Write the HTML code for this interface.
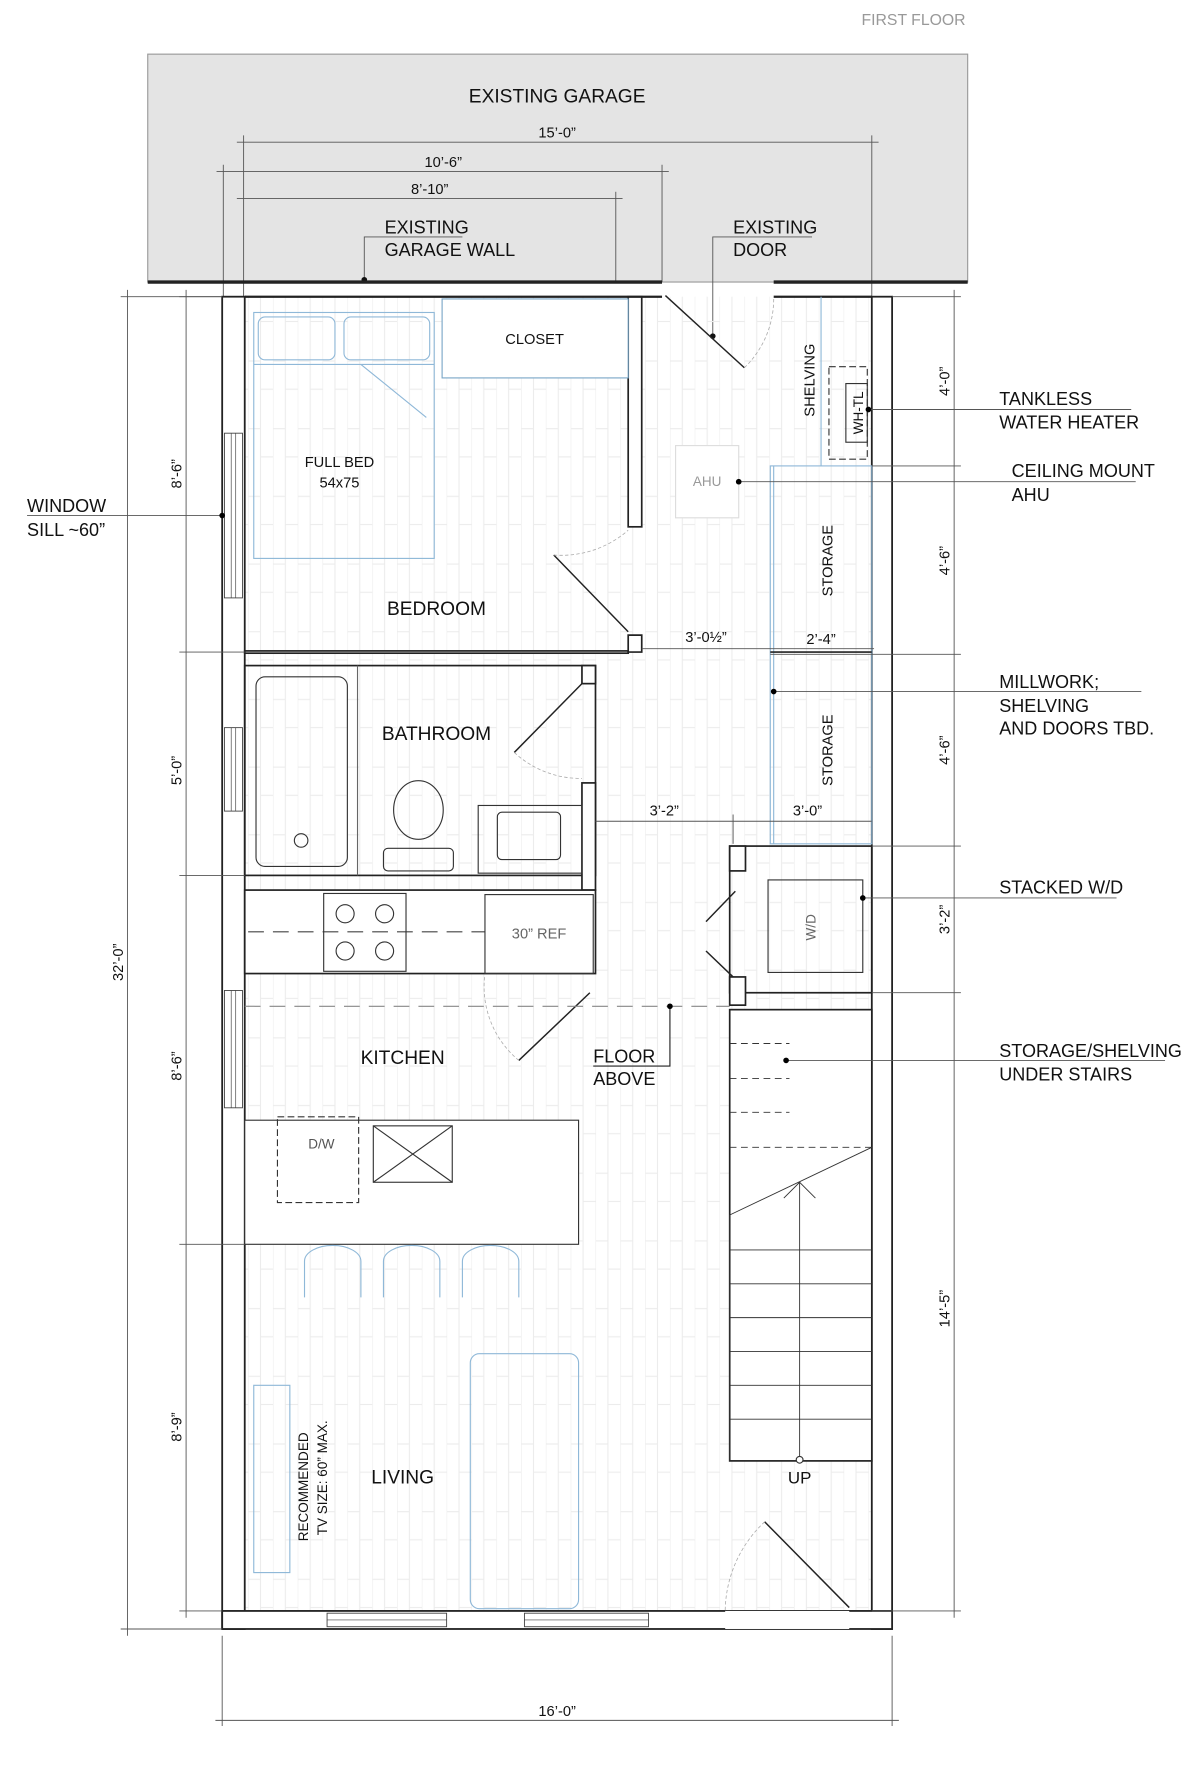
<!DOCTYPE html>
<html><head><meta charset="utf-8"><style>
html,body{margin:0;padding:0;background:#fff}
svg{display:block}
text{font-family:"Liberation Sans",sans-serif;fill:#111}
</style></head><body>
<svg width="1200" height="1770" viewBox="0 0 1064 1569" preserveAspectRatio="none" xmlns="http://www.w3.org/2000/svg">
<defs>
<pattern id="wood" width="22" height="60" patternUnits="userSpaceOnUse">
<line x1="0" y1="0" x2="0" y2="60" stroke="#ececec" stroke-width="1"/>
<line x1="11" y1="0" x2="11" y2="60" stroke="#ececec" stroke-width="1"/>
<line x1="0" y1="20" x2="11" y2="20" stroke="#ececec"/>
<line x1="11" y1="45" x2="22" y2="45" stroke="#ececec"/>
</pattern>
</defs>
<text x="810" y="22" font-size="14" fill="#999" style="fill:#999" text-anchor="middle">FIRST FLOOR</text>
<rect x="131" y="48" width="727" height="202" fill="#e4e4e4" stroke="#999"/>
<text x="494" y="91" font-size="17" text-anchor="middle">EXISTING GARAGE</text>
<g stroke="#555" stroke-width="0.8" fill="none">
<line x1="210" y1="126" x2="779" y2="126"/><line x1="216" y1="120" x2="216" y2="263"/><line x1="773" y1="120" x2="773" y2="263"/>
<line x1="192" y1="152" x2="593" y2="152"/><line x1="198" y1="146" x2="198" y2="263"/><line x1="587" y1="146" x2="587" y2="250"/>
<line x1="210" y1="176" x2="552" y2="176"/><line x1="546" y1="170" x2="546" y2="250"/>
<polyline points="323,248 323,210 410,210"/>
<polyline points="632,298 632,210 720,210"/>
</g>
<circle cx="323" cy="248" r="2.5" fill="#111"/><circle cx="632" cy="298" r="2.5" fill="#111"/>
<text x="494" y="122" font-size="13" text-anchor="middle">15’-0”</text>
<text x="393" y="148" font-size="13" text-anchor="middle">10’-6”</text>
<text x="381" y="172" font-size="13" text-anchor="middle">8’-10”</text>
<text x="341" y="207" font-size="16">EXISTING</text><text x="341" y="227" font-size="16">GARAGE WALL</text>
<text x="650" y="207" font-size="16">EXISTING</text><text x="650" y="227" font-size="16">DOOR</text>
<line x1="131" y1="250" x2="587" y2="250" stroke="#222" stroke-width="3"/>
<line x1="686" y1="250" x2="858" y2="250" stroke="#222" stroke-width="3"/>
<rect x="217" y="263" width="556" height="1165" fill="url(#wood)"/>
<g fill="none" stroke="#222" stroke-width="1.6">
<rect x="197" y="263" width="20" height="1181" fill="#fff"/>
<rect x="773" y="263" width="18" height="1181" fill="#fff"/>
<rect x="197" y="1428" width="594" height="16" fill="#fff"/>
</g>
<g fill="#fff" stroke="#444" stroke-width="0.8">
<rect x="199" y="384" width="16" height="146"/><rect x="199" y="645" width="16" height="74"/><rect x="199" y="878" width="16" height="104"/>
<rect x="290" y="1430" width="106" height="12"/><rect x="465" y="1430" width="110" height="12"/>
<rect x="643" y="1428" width="110" height="16" stroke="none"/>
</g>
<g stroke="#444" stroke-width="0.6"><line x1="205" y1="384" x2="205" y2="530"/><line x1="209" y1="384" x2="209" y2="530"/>
<line x1="205" y1="645" x2="205" y2="719"/><line x1="209" y1="645" x2="209" y2="719"/>
<line x1="205" y1="878" x2="205" y2="982"/><line x1="209" y1="878" x2="209" y2="982"/>
<line x1="290" y1="1436" x2="396" y2="1436"/><line x1="465" y1="1436" x2="575" y2="1436"/></g>
<g fill="#fff" stroke="#222" stroke-width="1.5">
<rect x="217" y="577" width="340" height="2"/>
<rect x="557" y="263" width="12" height="204"/>
<path d="M557 563 L569 563 L569 578 L557 578 Z"/>
<rect x="217" y="590" width="311" height="186" fill="none"/>
<rect x="516" y="590" width="12" height="16"/>
<rect x="516" y="694" width="12" height="95"/>
<rect x="217" y="789" width="311" height="74" fill="#fff"/>
<rect x="647" y="750" width="126" height="130" fill="none"/>
<rect x="647" y="750" width="14" height="22"/><rect x="647" y="866" width="14" height="25"/>
<rect x="647" y="895" width="126" height="400" fill="#fff"/>
</g>
<line x1="217" y1="263" x2="587" y2="263" stroke="#222" stroke-width="2"/>
<line x1="686" y1="263" x2="773" y2="263" stroke="#222" stroke-width="2"/>
<rect x="392" y="265" width="165" height="70" fill="#fff" stroke="#7aa7c7" stroke-width="1"/>
<text x="474" y="305" font-size="13" text-anchor="middle">CLOSET</text>
<g fill="none" stroke="#8fb8d8" stroke-width="1">
<rect x="225" y="277" width="160" height="218"/>
<rect x="229" y="281" width="68" height="38" rx="6"/><rect x="305" y="281" width="76" height="38" rx="6"/>
<path d="M225 323 L385 323 M320 323 L378 370"/>
</g>
<text x="301" y="414" font-size="13" text-anchor="middle">FULL BED</text>
<text x="301" y="432" font-size="13" text-anchor="middle">54x75</text>
<text x="387" y="545" font-size="17" text-anchor="middle">BEDROOM</text>
<g stroke="#222" stroke-width="1.3" fill="none">
<line x1="491" y1="492" x2="557" y2="560"/>
<line x1="456" y1="667" x2="516" y2="606"/>
<line x1="590" y1="262" x2="660" y2="326"/>
<line x1="626" y1="817" x2="652" y2="790"/>
<line x1="626" y1="843" x2="650" y2="866"/>
<line x1="460" y1="940" x2="523" y2="880"/>
<line x1="678" y1="1349" x2="753" y2="1425"/>
</g>
<g stroke="#aaa" stroke-width="0.7" fill="none" stroke-dasharray="3 2">
<path d="M491 492 A90 90 0 0 0 557 470"/><path d="M456 667 A86 86 0 0 0 516 690"/>
<path d="M660 326 A85 85 0 0 0 686 263"/><path d="M460 940 A85 85 0 0 1 430 863"/>
<path d="M678 1349 A110 110 0 0 0 643 1428"/>
</g>
<line x1="728" y1="263" x2="728" y2="413" stroke="#8fb8d8"/>
<text transform="translate(722,337) rotate(-90)" font-size="13" text-anchor="middle">SHELVING</text>
<rect x="735" y="325" width="34" height="82" fill="none" stroke="#333" stroke-dasharray="6 3"/>
<rect x="750" y="340" width="19" height="52" fill="none" stroke="#333"/>
<text transform="translate(765,366) rotate(-90)" font-size="12" text-anchor="middle">WH-TL</text>
<rect x="599" y="395" width="56" height="64" fill="#fff" stroke="#ddd"/>
<text x="627" y="431" font-size="12" fill="#999" style="fill:#999" text-anchor="middle">AHU</text>
<g fill="none" stroke="#8fb8d8"><rect x="683" y="413" width="90" height="335"/><line x1="686" y1="413" x2="686" y2="748"/></g>
<line x1="683" y1="578" x2="773" y2="578" stroke="#222" stroke-width="1.5"/>
<text transform="translate(738,497) rotate(-90)" font-size="13" text-anchor="middle">STORAGE</text>
<text transform="translate(738,665) rotate(-90)" font-size="13" text-anchor="middle">STORAGE</text>
<line x1="317" y1="590" x2="317" y2="776" stroke="#666"/>
<rect x="227" y="600" width="81" height="168" rx="8" fill="none" stroke="#333"/>
<circle cx="267" cy="745" r="6" fill="none" stroke="#333"/>
<text x="387" y="656" font-size="17" text-anchor="middle">BATHROOM</text>
<ellipse cx="371" cy="718" rx="22" ry="26" fill="none" stroke="#333"/>
<rect x="340" y="752" width="62" height="20" rx="4" fill="none" stroke="#333"/>
<rect x="424" y="714" width="92" height="60" fill="none" stroke="#333"/>
<rect x="441" y="720" width="56" height="42" rx="4" fill="none" stroke="#333"/>
<line x1="220" y1="826" x2="430" y2="826" stroke="#444" stroke-dasharray="14 8"/>
<rect x="287" y="792" width="73" height="69" fill="none" stroke="#333"/>
<g fill="none" stroke="#333"><circle cx="306" cy="810" r="8"/><circle cx="341" cy="810" r="8"/><circle cx="306" cy="843" r="8"/><circle cx="341" cy="843" r="8"/></g>
<rect x="430" y="793" width="96" height="70" fill="none" stroke="#333"/>
<text x="478" y="832" font-size="13" fill="#666" style="fill:#666" text-anchor="middle">30” REF</text>
<line x1="217" y1="892" x2="647" y2="892" stroke="#888" stroke-dasharray="14 8"/>
<text x="357" y="943" font-size="17" text-anchor="middle">KITCHEN</text>
<polyline points="526,945 594,945 594,892" fill="none" stroke="#222"/>
<circle cx="594" cy="892" r="2.5"/>
<text x="526" y="942" font-size="16">FLOOR</text><text x="526" y="962" font-size="16">ABOVE</text>
<rect x="217" y="993" width="296" height="110" fill="#fff" stroke="#333"/>
<rect x="246" y="990" width="72" height="76" fill="none" stroke="#333" stroke-dasharray="6 3"/>
<text x="285" y="1018" font-size="12" fill="#555" style="fill:#555" text-anchor="middle">D/W</text>
<rect x="331" y="998" width="70" height="50" fill="none" stroke="#333"/>
<path d="M331 998 L401 1048 M401 998 L331 1048" stroke="#333"/>
<g fill="none" stroke="#8fb8d8"><path d="M270 1150 L270 1118 A25 14 0 0 1 320 1118 L320 1150"/><path d="M340 1150 L340 1118 A25 14 0 0 1 390 1118 L390 1150"/><path d="M410 1150 L410 1118 A25 14 0 0 1 460 1118 L460 1150"/></g>
<rect x="417" y="1200" width="96" height="226" rx="8" fill="none" stroke="#8fb8d8"/>
<rect x="225" y="1228" width="32" height="166" fill="none" stroke="#8fb8d8"/>
<text x="357" y="1315" font-size="17" text-anchor="middle">LIVING</text>
<text transform="translate(273,1318) rotate(-90)" font-size="12" text-anchor="middle">RECOMMENDED</text>
<text transform="translate(290,1310) rotate(-90)" font-size="12" text-anchor="middle">TV SIZE: 60” MAX.</text>
<rect x="681" y="780" width="84" height="82" fill="none" stroke="#333"/>
<text transform="translate(723,822) rotate(-90)" font-size="12" fill="#666" style="fill:#666" text-anchor="middle">W/D</text>
<g stroke="#333" stroke-width="0.8" fill="none">
<line x1="647" y1="1017" x2="773" y2="1017" stroke-dasharray="6 4"/>
<line x1="647" y1="1077" x2="773" y2="1017"/>
<line x1="647" y1="1108" x2="773" y2="1108"/><line x1="647" y1="1138" x2="773" y2="1138"/><line x1="647" y1="1168" x2="773" y2="1168"/><line x1="647" y1="1198" x2="773" y2="1198"/><line x1="647" y1="1228" x2="773" y2="1228"/><line x1="647" y1="1258" x2="773" y2="1258"/><line x1="647" y1="1077" x2="647" y2="1295"/>
<line x1="709" y1="1048" x2="709" y2="1292"/><polyline points="695,1062 709,1048 723,1062"/>
<line x1="647" y1="925" x2="700" y2="925" stroke-dasharray="6 4"/><line x1="647" y1="956" x2="700" y2="956" stroke-dasharray="6 4"/><line x1="647" y1="986" x2="700" y2="986" stroke-dasharray="6 4"/>
</g>
<circle cx="709" cy="1294" r="3" fill="#fff" stroke="#333"/>
<text x="709" y="1315" font-size="15" text-anchor="middle">UP</text>
<g stroke="#555" stroke-width="0.8"><line x1="569" y1="575" x2="775" y2="575"/><line x1="528" y1="728" x2="773" y2="728"/><line x1="650" y1="722" x2="650" y2="748"/></g>
<text x="626" y="569" font-size="13" text-anchor="middle">3’-0½”</text>
<text x="728" y="571" font-size="13" text-anchor="middle">2’-4”</text>
<text x="589" y="723" font-size="13" text-anchor="middle">3’-2”</text>
<text x="716" y="723" font-size="13" text-anchor="middle">3’-0”</text>
<g stroke="#555" stroke-width="0.8">
<line x1="113" y1="257" x2="113" y2="1450"/><line x1="107" y1="263" x2="197" y2="263"/><line x1="107" y1="1444" x2="197" y2="1444"/>
<line x1="165" y1="257" x2="165" y2="1434"/>
<line x1="159" y1="263" x2="197" y2="263"/><line x1="159" y1="578" x2="217" y2="578"/><line x1="159" y1="776" x2="217" y2="776"/><line x1="159" y1="1103" x2="217" y2="1103"/><line x1="159" y1="1428" x2="197" y2="1428"/>
<line x1="197" y1="1450" x2="197" y2="1530"/><line x1="791" y1="1450" x2="791" y2="1530"/><line x1="191" y1="1525" x2="797" y2="1525"/>
<line x1="24" y1="457" x2="197" y2="457"/>
<line x1="791" y1="263" x2="852" y2="263"/><line x1="846" y1="257" x2="846" y2="1434"/>
<line x1="773" y1="413" x2="852" y2="413"/><line x1="683" y1="580" x2="852" y2="580"/><line x1="773" y1="750" x2="852" y2="750"/><line x1="773" y1="880" x2="852" y2="880"/><line x1="773" y1="1428" x2="852" y2="1428"/>
<line x1="770" y1="363" x2="1003" y2="363"/><line x1="655" y1="427" x2="1007" y2="427"/><line x1="686" y1="613" x2="1012" y2="613"/><line x1="765" y1="796" x2="990" y2="796"/><line x1="697" y1="940" x2="1033" y2="940"/>
</g>
<circle cx="197" cy="457" r="2.5"/><circle cx="770" cy="363" r="2.5"/><circle cx="655" cy="427" r="2.5"/><circle cx="686" cy="613" r="2.5"/><circle cx="765" cy="796" r="2.5"/><circle cx="697" cy="940" r="2.5"/>
<text transform="translate(109,853) rotate(-90)" font-size="13" text-anchor="middle">32’-0”</text>
<text transform="translate(161,420) rotate(-90)" font-size="13" text-anchor="middle">8’-6”</text>
<text transform="translate(161,683) rotate(-90)" font-size="13" text-anchor="middle">5’-0”</text>
<text transform="translate(161,945) rotate(-90)" font-size="13" text-anchor="middle">8’-6”</text>
<text transform="translate(161,1265) rotate(-90)" font-size="13" text-anchor="middle">8’-9”</text>
<text x="494" y="1521" font-size="13" text-anchor="middle">16’-0”</text>
<text transform="translate(842,338) rotate(-90)" font-size="13" text-anchor="middle">4’-0”</text>
<text transform="translate(842,497) rotate(-90)" font-size="13" text-anchor="middle">4’-6”</text>
<text transform="translate(842,665) rotate(-90)" font-size="13" text-anchor="middle">4’-6”</text>
<text transform="translate(842,815) rotate(-90)" font-size="13" text-anchor="middle">3’-2”</text>
<text transform="translate(842,1160) rotate(-90)" font-size="13" text-anchor="middle">14’-5”</text>
<text x="24" y="454" font-size="16">WINDOW</text><text x="24" y="475" font-size="16">SILL ~60”</text>
<text x="886" y="359" font-size="16">TANKLESS</text><text x="886" y="380" font-size="16">WATER HEATER</text>
<text x="897" y="423" font-size="16">CEILING MOUNT</text><text x="897" y="444" font-size="16">AHU</text>
<text x="886" y="610" font-size="16">MILLWORK;</text><text x="886" y="631" font-size="16">SHELVING</text><text x="886" y="651" font-size="16">AND DOORS TBD.</text>
<text x="886" y="792" font-size="16">STACKED W/D</text>
<text x="886" y="937" font-size="16">STORAGE/SHELVING</text><text x="886" y="958" font-size="16">UNDER STAIRS</text>
</svg>
</body></html>
